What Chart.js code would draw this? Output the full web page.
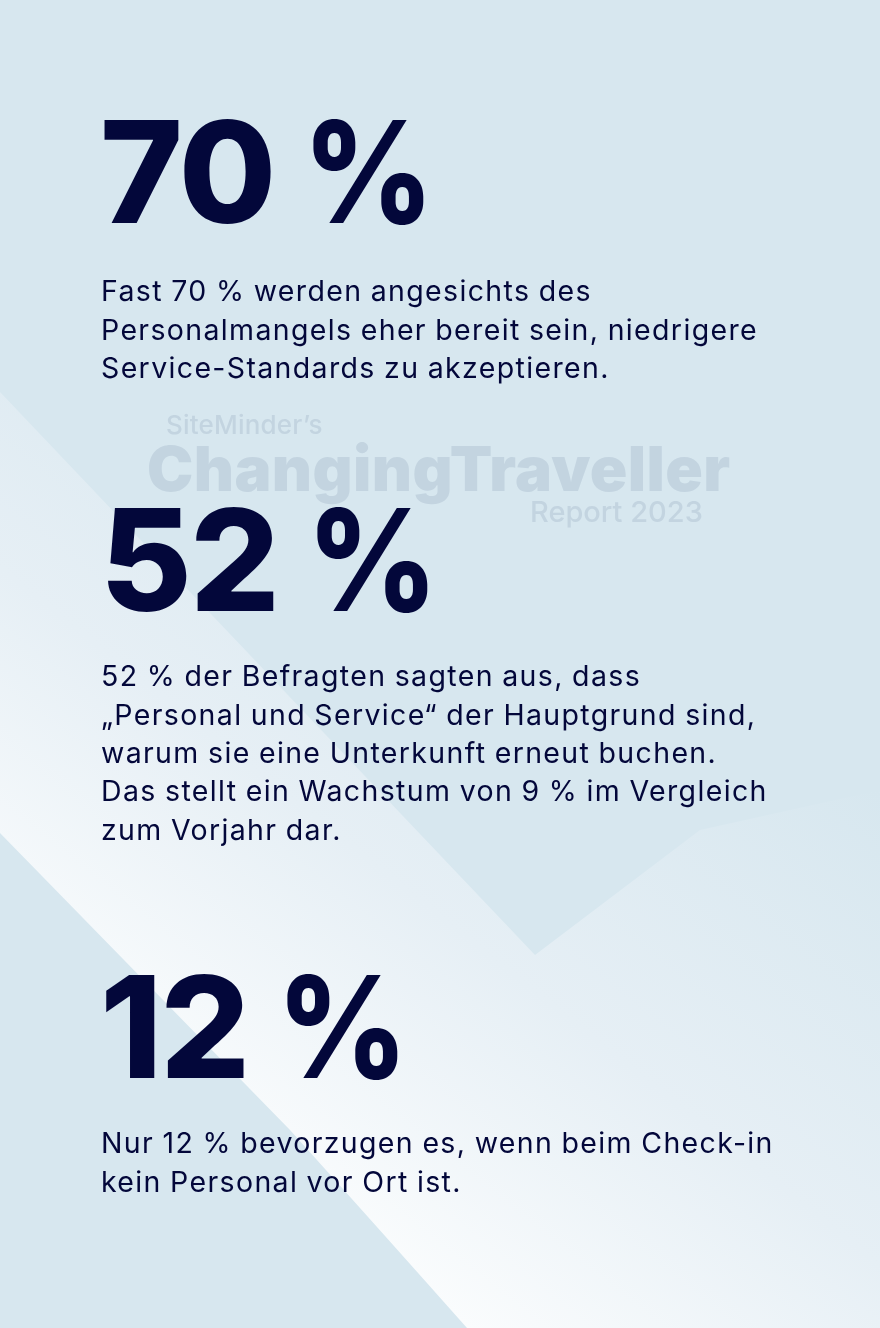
<!DOCTYPE html>
<html lang="de">
<head>
<meta charset="utf-8">
<title>Changing Traveller 2023</title>
<script src="https://cdn.jsdelivr.net/npm/chart.js@4.4.1/dist/chart.umd.min.js"></script>
<style>
  body { margin: 0; background: #d7e7ef; }
  #page {
    position: relative;
    width: 880px;
    height: 1328px;
    overflow: hidden;
    font-family: Inter, "Noto Sans", sans-serif;
    color: #03073a;
  }
  #bg { position: absolute; left: 0; top: 0; }
  .big {
    position: absolute;
    left: 100px;
    font-size: 141px;
    font-weight: 800;
    line-height: 141px;
    letter-spacing: -2px;
    white-space: nowrap;
  }
  .big .pct { display: inline-block; transform: scaleX(0.9); transform-origin: left center; }
  .desc {
    position: absolute;
    left: 101px;
    font-size: 28.5px;
    line-height: 38.3px;
    letter-spacing: 1.35px;
    word-spacing: -1px;
    white-space: nowrap;
  }
  .wm { position: absolute; color: #c3d4e0; white-space: nowrap; line-height: 1; }
</style>
</head>
<body>
<div id="page">
  <canvas id="bg" width="880" height="1328"></canvas>
</div>
<script>
// the three figures and what they mean
const statValues = [70, 52, 12];
const statUnit = "%";
const statLines = [
  [
    "Fast 70 % werden angesichts des",
    "Personalmangels eher bereit sein, niedrigere",
    "Service-Standards zu akzeptieren."
  ],
  [
    "52 % der Befragten sagten aus, dass",
    "\u201EPersonal und Service\u201C der Hauptgrund sind,",
    "warum sie eine Unterkunft erneut buchen.",
    "Das stellt ein Wachstum von 9 % im Vergleich",
    "zum Vorjahr dar."
  ],
  [
    "Nur 12 % bevorzugen es, wenn beim Check-in",
    "kein Personal vor Ort ist."
  ]
];
const watermark = ["SiteMinder\u2019s", "ChangingTraveller", "Report 2023"];

// layout (baselines in px)
const bigBaselines = [223, 611, 1078];
const descFirstBaselines = [302, 687, 1154];

const page = document.getElementById("page");

// Inter metrics: ascent 0.96875em, content box 1.2109em
function topFor(baseline, size, lineHeight) {
  const half = (lineHeight - size * 1.2109) / 2;
  return baseline - half - size * 0.96875;
}

statValues.forEach((v, i) => {
  const big = document.createElement("div");
  big.className = "big";
  big.innerHTML = v + " <span class=\"pct\">" + statUnit + "</span>";
  big.style.top = topFor(bigBaselines[i], 141, 141) + "px";
  page.appendChild(big);

  const desc = document.createElement("div");
  desc.className = "desc";
  desc.innerHTML = statLines[i].join("<br>");
  desc.style.top = topFor(descFirstBaselines[i], 28.5, 38.3) + "px";
  page.appendChild(desc);
});

// faded report logo behind the second figure
const wmStyle = [
  { left: 166, base: 434, size: 26, weight: 500, ls: 0.2 },
  { left: 147, base: 492, size: 62, weight: 900, ls: 0.4 },
  { left: 530, base: 522, size: 29, weight: 500, ls: 0 }
];
watermark.forEach((t, i) => {
  const s = wmStyle[i];
  const el = document.createElement("div");
  el.className = "wm";
  el.textContent = t;
  el.style.left = s.left + "px";
  el.style.fontSize = s.size + "px";
  el.style.fontWeight = s.weight;
  el.style.letterSpacing = s.ls + "px";
  el.style.top = topFor(s.base, s.size, s.size) + "px";
  page.insertBefore(el, page.children[1]);
});

// background: light diagonal band with a soft gradient
const backdrop = {
  id: "backdrop",
  beforeDraw(chart) {
    const ctx = chart.ctx;
    ctx.save();
    ctx.fillStyle = "#d7e7ef";
    ctx.fillRect(0, 0, chart.width, chart.height);

    const g = ctx.createLinearGradient(320, 1210, 740, 680);
    g.addColorStop(0, "#fafcfd");
    g.addColorStop(0.45, "#e6eff5");
    g.addColorStop(1, "#d7e7ef");
    ctx.fillStyle = g;
    ctx.beginPath();
    ctx.moveTo(0, 392);
    ctx.lineTo(535, 955);
    ctx.lineTo(700, 830);
    ctx.lineTo(880, 790);
    ctx.lineTo(880, 1328);
    ctx.lineTo(467, 1328);
    ctx.quadraticCurveTo(380, 1230, 290, 1130);
    ctx.lineTo(0, 833);
    ctx.closePath();
    ctx.fill();
    ctx.restore();
  }
};

new Chart(document.getElementById("bg"), {
  type: "scatter",
  data: { datasets: [] },
  options: {
    responsive: false,
    animation: false,
    events: [],
    layout: { padding: 0 },
    scales: { x: { display: false }, y: { display: false } },
    plugins: { legend: { display: false }, tooltip: { enabled: false } }
  },
  plugins: [backdrop]
});
</script>
</body>
</html>
